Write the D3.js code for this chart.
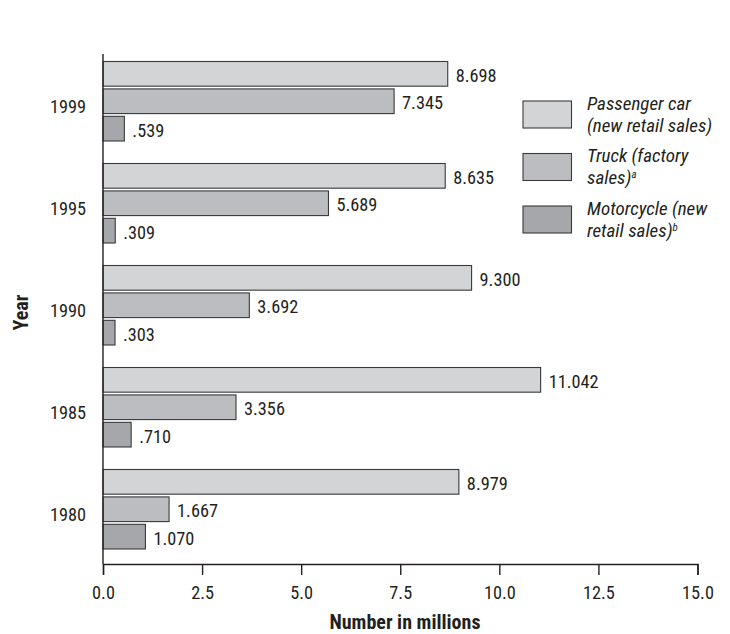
<!DOCTYPE html>
<html>
<head>
<meta charset="utf-8">
<script src="https://cdn.jsdelivr.net/npm/d3@7"></script>
<style>
  body { margin: 0; background: #fff; }
  svg text { font-family: "Liberation Sans Narrow", "Arial Narrow", "Roboto Condensed", sans-serif; fill: #231f20; }
</style>
</head>
<body>
<svg id="chart" width="730" height="634"></svg>
<script>
// Vehicle sales by year, millions of units
const years = ["1999", "1995", "1990", "1985", "1980"];
const seriesKeys = ["car", "truck", "moto"];
const carSales = [8.698, 8.635, 9.300, 11.042, 8.979];
const truckSales = [7.345, 5.689, 3.692, 3.356, 1.667];
const motoSales = [0.539, 0.309, 0.303, 0.710, 1.070];
const valueLabels = [
  ["8.698", "8.635", "9.300", "11.042", "8.979"],
  ["7.345", "5.689", "3.692", "3.356", "1.667"],
  [".539", ".309", ".303", ".710", "1.070"]
];
const xTicks = [0, 2.5, 5, 7.5, 10, 12.5, 15];
const legendLines = [
  [["Passenger car"], ["(new retail sales)"]],
  [["Truck (factory"], ["sales)", "a"]],
  [["Motorcycle (new"], ["retail sales)", "b"]]
];
const fills = ["#d3d4d6", "#bcbdc1", "#a6a7ab"];

const svg = d3.select("#chart");
const plotLeft = 103, plotRight = 697.5, plotTop = 54, plotBottom = 564;
const fs = 18.3;

const x = d3.scaleLinear().domain([0, 15]).range([plotLeft, plotRight]);
const y = d3.scaleBand().domain(years).range([plotTop, plotBottom]);
const ySub = d3.scaleBand().domain(seriesKeys).range([7.5, 87]).paddingInner(0.1);

const rows = years.map((yr, i) => ({
  year: yr,
  values: [carSales[i], truckSales[i], motoSales[i]],
  labels: [valueLabels[0][i], valueLabels[1][i], valueLabels[2][i]]
}));

// Bars
const groups = svg.append("g").selectAll("g").data(rows).join("g")
  .attr("transform", d => `translate(0,${y(d.year)})`);

groups.selectAll("rect").data(d => d.values.map((v, k) => ({ v, k, label: d.labels[k] })))
  .join("rect")
  .attr("x", x(0))
  .attr("y", d => ySub(seriesKeys[d.k]))
  .attr("width", d => x(d.v) - x(0))
  .attr("height", ySub.bandwidth())
  .attr("fill", d => fills[d.k])
  .attr("stroke", "#3a3a3a")
  .attr("stroke-width", 1.1);

groups.selectAll("text.val").data(d => d.values.map((v, k) => ({ v, k, label: d.labels[k] })))
  .join("text")
  .attr("class", "val")
  .attr("x", d => x(d.v) + 8)
  .attr("y", d => ySub(seriesKeys[d.k]) + ySub.bandwidth() / 2 + 1.5)
  .attr("dy", "0.36em")
  .attr("font-size", fs)
  .text(d => d.label);

// X axis
const xAxis = svg.append("g").attr("transform", `translate(0,${plotBottom})`)
  .call(d3.axisBottom(x).tickValues(xTicks).tickFormat(d3.format(".1f")).tickSize(11).tickPadding(11.5));
xAxis.select(".domain").attr("stroke", "#231f20").attr("stroke-width", 1.4);
xAxis.selectAll(".tick line").attr("stroke", "#231f20").attr("stroke-width", 1.4);
xAxis.selectAll(".tick text").attr("font-size", fs).attr("font-family", null);

// Y axis line and year labels
svg.append("line").attr("x1", plotLeft).attr("x2", plotLeft).attr("y1", plotTop).attr("y2", plotBottom)
  .attr("stroke", "#231f20").attr("stroke-width", 1.4);
svg.append("g").selectAll("text").data(years).join("text")
  .attr("x", 86)
  .attr("y", d => y(d) + y.bandwidth() / 2 + 1.5)
  .attr("dy", "0.36em")
  .attr("text-anchor", "end")
  .attr("font-size", fs)
  .text(d => d);

// Axis titles
svg.append("text").attr("x", 405).attr("y", 629)
  .attr("text-anchor", "middle").attr("font-size", 20).attr("font-weight", "bold")
  .text("Number in millions");
svg.append("text").attr("transform", "translate(21,312.5) rotate(-90)").attr("dy", "0.36em")
  .attr("text-anchor", "middle").attr("font-size", 20).attr("font-weight", "bold")
  .text("Year");

// Legend
const legend = svg.append("g");
legendLines.forEach((lines, i) => {
  const gy = 101 + i * 52.5;
  legend.append("rect").attr("x", 523).attr("y", gy).attr("width", 48.5).attr("height", 27)
    .attr("fill", fills[i]).attr("stroke", "#3a3a3a").attr("stroke-width", 1.1);
  lines.forEach((parts, j) => {
    const t = legend.append("text").attr("x", 587).attr("y", gy + 8.5 + j * 22)
      .attr("font-size", 19).attr("font-style", "italic");
    t.append("tspan").text(parts[0]);
    if (parts[1]) t.append("tspan").attr("font-size", 11).attr("dy", -6).text(parts[1]);
  });
});
</script>
</body>
</html>
